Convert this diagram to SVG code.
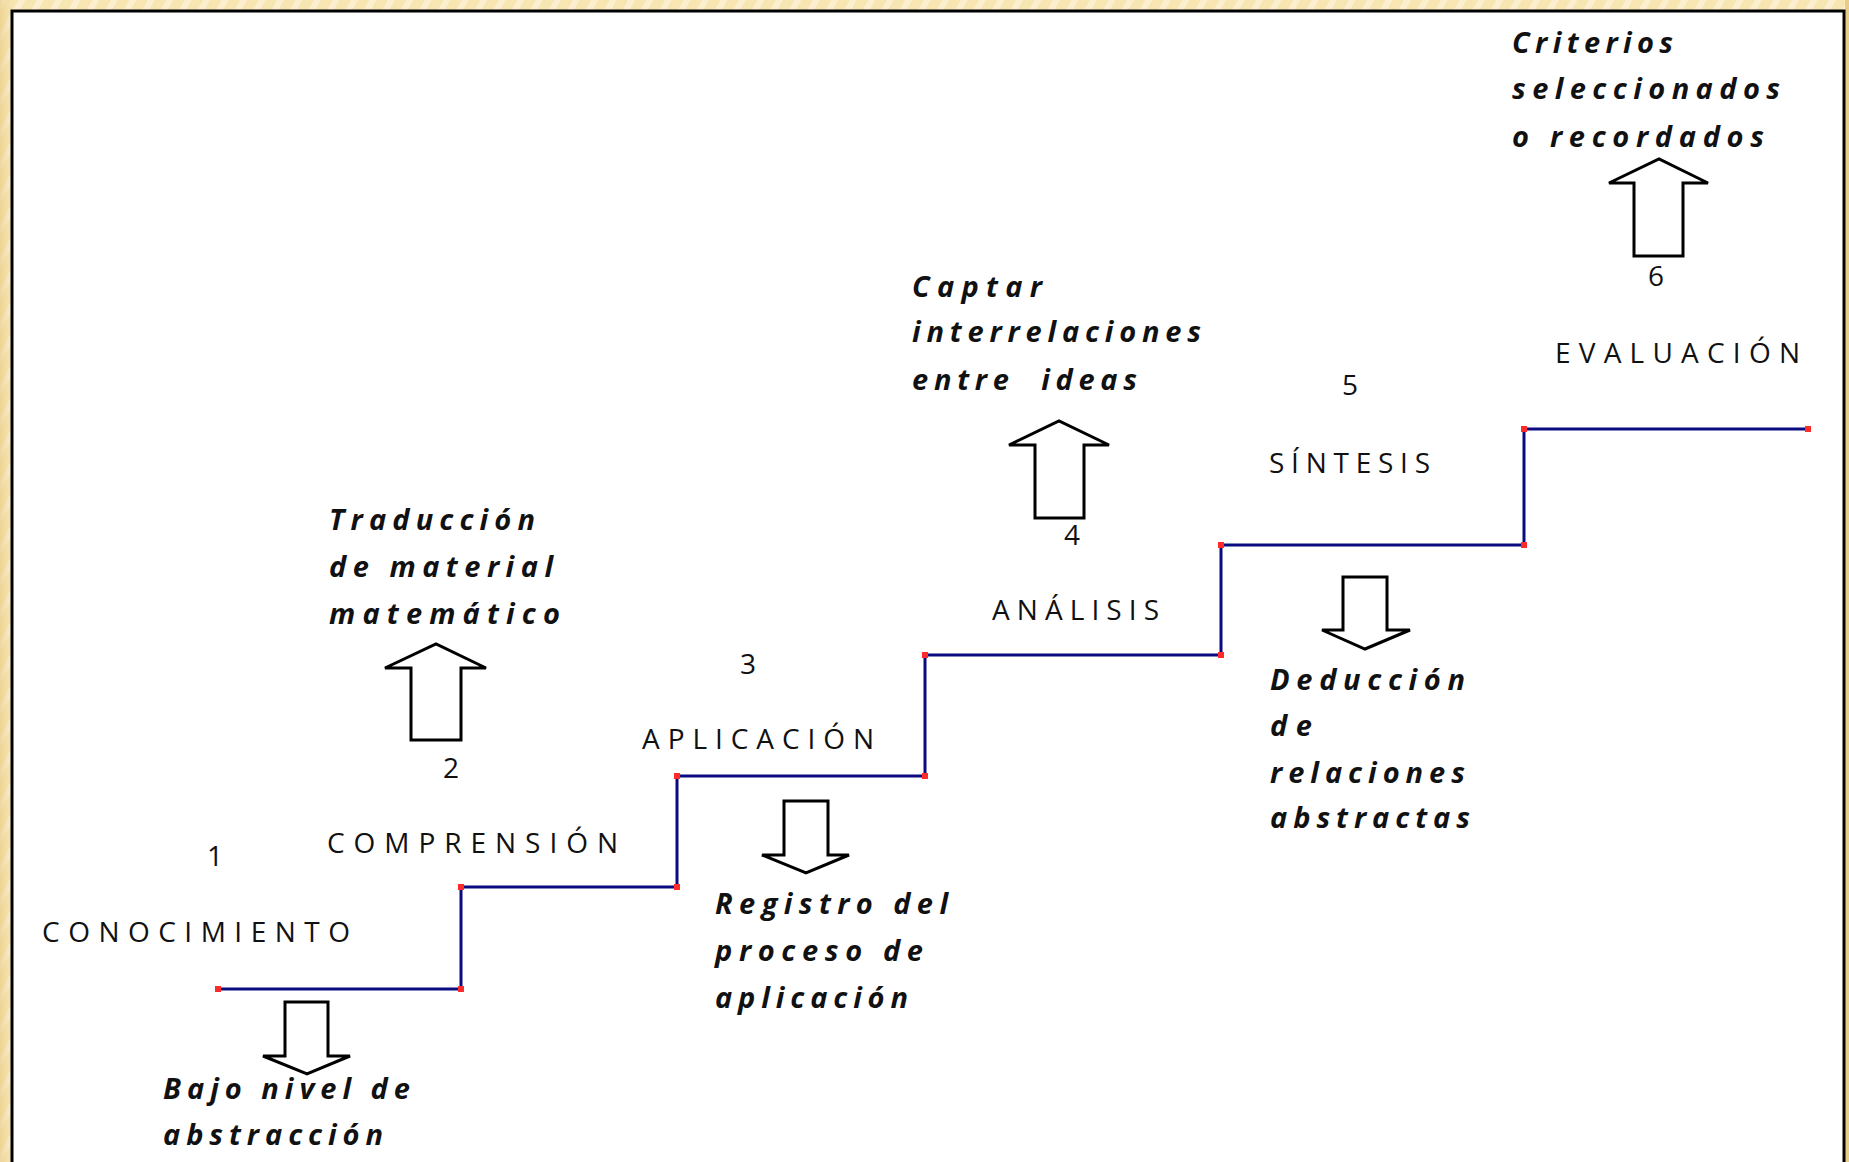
<svg xmlns="http://www.w3.org/2000/svg" width="1849" height="1162" viewBox="0 0 1849 1162">
<style>
.lvl{font-family:"Open Sans","Noto Sans","Liberation Sans",sans-serif;font-size:28px;fill:#111;}
.num{font-family:"Open Sans","Noto Sans","Liberation Sans",sans-serif;font-size:28px;fill:#111;}
.desc{font-family:"Open Sans","Noto Sans","Liberation Sans",sans-serif;font-size:29px;font-weight:bold;font-style:italic;fill:#111;}
.arrow{fill:#fff;stroke:#000;stroke-width:3;stroke-linejoin:miter;}
.stair{fill:none;stroke:#0a0a80;stroke-width:3;}
.handle{fill:#ff2a2a;}
</style>
<defs>
<pattern id="bgstripe" width="16" height="16" patternUnits="userSpaceOnUse" patternTransform="rotate(30)">
<rect width="16" height="16" fill="#f7e5b2"/>
<rect width="6" height="16" fill="#fbefcf"/>
</pattern>
<linearGradient id="edgeL" x1="0" y1="0" x2="1" y2="0">
<stop offset="0" stop-color="#e9cd88" stop-opacity="0.7"/>
<stop offset="1" stop-color="#e9cd88" stop-opacity="0"/>
</linearGradient>
</defs>
<g id="background">
<rect x="0" y="0" width="1849" height="1162" fill="url(#bgstripe)"/>
<rect x="0" y="0" width="12" height="1162" fill="url(#edgeL)"/>
<rect x="1845" y="0" width="4" height="1162" fill="#e8cc88"/>
<rect x="12" y="11" width="1832" height="1170" fill="#fff" stroke="#000" stroke-width="3"/>
</g>
<g id="connectors">
<polyline class="stair" points="218,989 461,989 461,887 677,887 677,776 925,776 925,655 1221,655 1221,545 1524,545 1524,429 1808,429"/>
<g class="handle">
<rect x="215" y="986" width="6" height="6"/>
<rect x="458" y="986" width="6" height="6"/>
<rect x="458" y="884" width="6" height="6"/>
<rect x="674" y="884" width="6" height="6"/>
<rect x="674" y="773" width="6" height="6"/>
<rect x="922" y="773" width="6" height="6"/>
<rect x="922" y="652" width="6" height="6"/>
<rect x="1218" y="652" width="6" height="6"/>
<rect x="1218" y="542" width="6" height="6"/>
<rect x="1521" y="542" width="6" height="6"/>
<rect x="1521" y="426" width="6" height="6"/>
<rect x="1805" y="426" width="6" height="6"/>
</g>
</g>
<g id="node1">
<text class="num" x="207" y="866">1</text>
<text class="lvl" x="42" y="942" textLength="308" lengthAdjust="spacing">CONOCIMIENTO</text>
<path class="arrow" d="M285,1002 L328,1002 L328,1056 L350,1056 L307,1074 L263,1056 L285,1056 Z"/>
<text class="desc" x="163" y="1099" textLength="247" lengthAdjust="spacing">Bajo nivel de</text>
<text class="desc" x="163" y="1145" textLength="220" lengthAdjust="spacing">abstracción</text>
</g>
<g id="node2">
<text class="desc" x="329" y="530" textLength="206" lengthAdjust="spacing">Traducción</text>
<text class="desc" x="329" y="577" textLength="224" lengthAdjust="spacing">de material</text>
<text class="desc" x="329" y="624" textLength="231" lengthAdjust="spacing">matemático</text>
<path class="arrow" d="M411,740 L461,740 L461,668 L486,668 L436,644 L385,668 L411,668 Z"/>
<text class="num" x="443" y="778">2</text>
<text class="lvl" x="327" y="853" textLength="291" lengthAdjust="spacing">COMPRENSIÓN</text>
</g>
<g id="node3">
<text class="num" x="740" y="674">3</text>
<text class="lvl" x="642" y="749" textLength="232" lengthAdjust="spacing">APLICACIÓN</text>
<path class="arrow" d="M784,801 L828,801 L828,855 L849,855 L806,873 L762,855 L784,855 Z"/>
<text class="desc" x="715" y="914" textLength="233" lengthAdjust="spacing">Registro del</text>
<text class="desc" x="715" y="961" textLength="208" lengthAdjust="spacing">proceso de</text>
<text class="desc" x="715" y="1008" textLength="193" lengthAdjust="spacing">aplicación</text>
</g>
<g id="node4">
<text class="desc" x="912" y="297" textLength="130" lengthAdjust="spacing">Captar</text>
<text class="desc" x="912" y="342" textLength="289" lengthAdjust="spacing">interrelaciones</text>
<text class="desc" x="912" y="390" textLength="225" lengthAdjust="spacing" xml:space="preserve">entre  ideas</text>
<path class="arrow" d="M1035,518 L1084,518 L1084,445 L1109,445 L1059,421 L1009,445 L1035,445 Z"/>
<text class="num" x="1064" y="545">4</text>
<text class="lvl" x="992" y="620" textLength="167" lengthAdjust="spacing">ANÁLISIS</text>
</g>
<g id="node5">
<text class="num" x="1342" y="395">5</text>
<text class="lvl" x="1269" y="473" textLength="161" lengthAdjust="spacing">SÍNTESIS</text>
<path class="arrow" d="M1343,577 L1387,577 L1387,630 L1410,630 L1365,649 L1322,630 L1343,630 Z"/>
<text class="desc" x="1270" y="690" textLength="195" lengthAdjust="spacing">Deducción</text>
<text class="desc" x="1270" y="736" textLength="42" lengthAdjust="spacing">de</text>
<text class="desc" x="1270" y="783" textLength="195" lengthAdjust="spacing">relaciones</text>
<text class="desc" x="1270" y="828" textLength="200" lengthAdjust="spacing">abstractas</text>
</g>
<g id="node6">
<text class="desc" x="1512" y="53" textLength="161" lengthAdjust="spacing">Criterios</text>
<text class="desc" x="1512" y="99" textLength="268" lengthAdjust="spacing">seleccionados</text>
<text class="desc" x="1512" y="147" textLength="252" lengthAdjust="spacing">o recordados</text>
<path class="arrow" d="M1634,256 L1683,256 L1683,183 L1708,183 L1659,159 L1609,183 L1634,183 Z"/>
<text class="num" x="1648" y="286">6</text>
<text class="lvl" x="1555" y="363" textLength="245" lengthAdjust="spacing">EVALUACIÓN</text>
</g>
</svg>
